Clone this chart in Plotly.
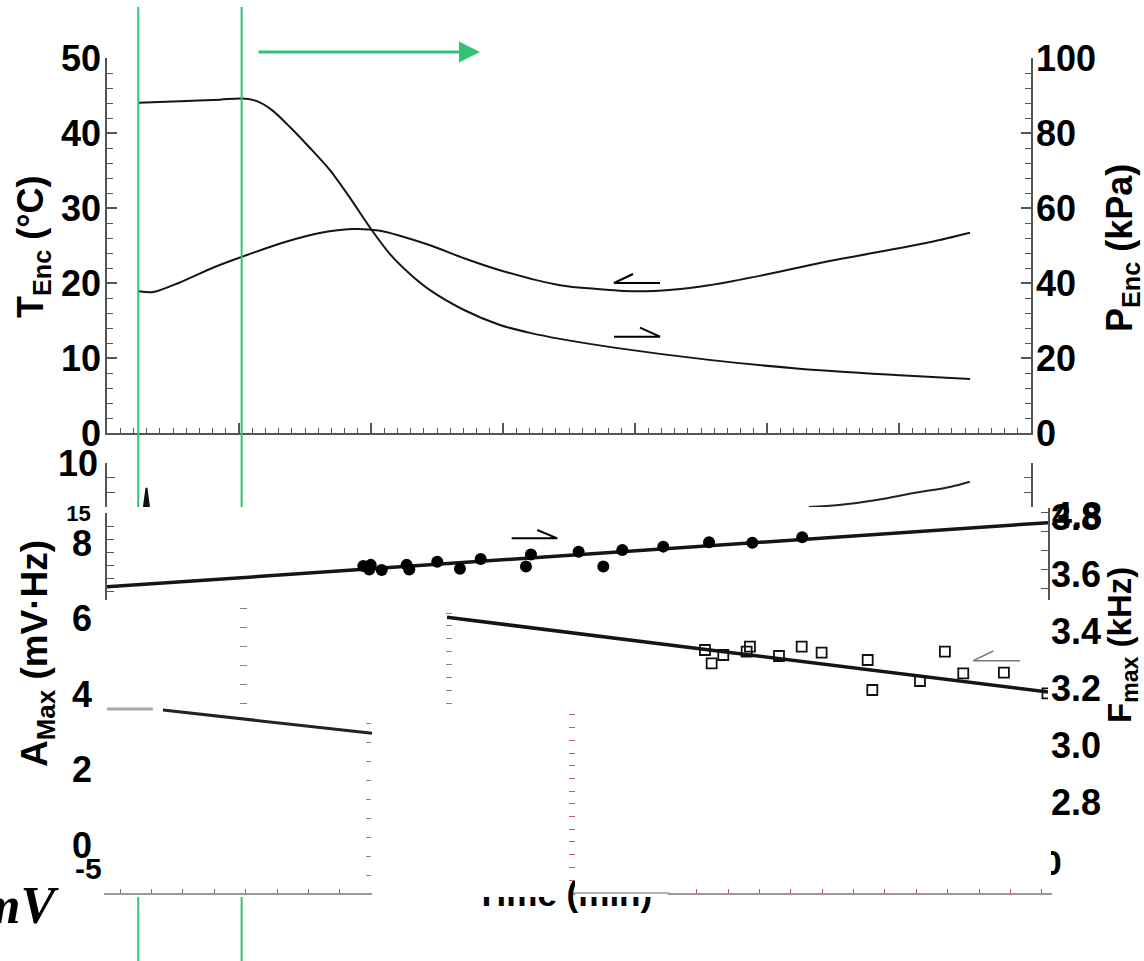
import plotly.graph_objects as go

W, H = 1144, 961
FONT = "Liberation Sans, Arial, sans-serif"
AX = "#555555"
LINE = "#151515"
GREEN = "#33c172"


def px(xp):
    return xp / W


def py(yp):
    return (H - yp) / H


# ---------------- data ----------------
# Top panel: enclosure temperature (left axis, °C) and pressure (right axis, kPa) vs time (min)
time_T = [2.39, 3.52, 5.42, 8.11, 10.23, 13.56, 16.21, 18.56, 20.58, 24.36, 27.05,
          29.77, 34.32, 37.12, 39.96, 42.80, 45.61, 49.85, 54.09, 58.33, 62.50, 65.38]
T_enc = [18.9, 18.8, 20.0, 22.1, 23.5, 25.5, 26.7, 27.2, 27.0, 25.1, 23.3,
         21.7, 19.7, 19.2, 18.9, 19.1, 19.7, 21.1, 22.7, 24.1, 25.5, 26.7]
time_P = [2.39, 5.53, 8.56, 10.23, 11.36, 12.50, 13.86, 15.38, 16.89, 18.41, 20.0,
          21.44, 22.95, 24.47, 27.05, 29.77, 32.05, 34.32, 38.56, 45.61, 52.65, 59.70, 65.38]
P_enc = [88.1, 88.5, 88.9, 89.2, 88.5, 86.1, 81.6, 76.0, 70.1, 62.7, 54.4,
         47.7, 42.4, 38.1, 32.8, 28.8, 26.7, 25.1, 22.7, 19.5, 17.1, 15.5, 14.4]
event_times = [2.37, 10.2]

# Middle strip (partly hidden panel)
time_strip = [53.18, 55.45, 58.30, 61.12, 63.94, 65.36]
val_strip = [7.0, 7.14, 7.48, 7.95, 8.38, 8.72]
time_spike = [2.80, 2.99, 3.18]
val_spike = [7.0, 8.3, 7.0]

# Lower panel: F_max (filled circles, right axis) and A_max (open squares, left axis)
time_F = [19.42, 19.98, 19.87, 20.81, 22.70, 22.90, 25.02, 26.74, 28.31, 31.74,
          32.12, 35.73, 37.60, 39.04, 42.14, 45.61, 48.89, 52.67]
F_max = [3.628, 3.632, 3.616, 3.614, 3.632, 3.616, 3.643, 3.618, 3.653, 3.626,
         3.668, 3.678, 3.626, 3.684, 3.696, 3.711, 3.710, 3.729]
time_F_fit = [0.0, 71.29]
F_fit = [3.555, 3.780]

time_A = [45.30, 45.81, 46.69, 48.71, 48.46, 50.91, 52.63, 54.14, 57.63, 57.98,
          61.59, 63.48, 64.87, 67.95, 71.25]
A_max = [5.166, 4.813, 5.033, 5.253, 5.121, 5.007, 5.253, 5.094, 4.901, 4.106,
         4.344, 5.121, 4.548, 4.564, 4.019]
time_A_fit = [25.76, 71.29]
A_fit = [6.032, 4.053]
time_A_frag = [4.24, 20.08]
A_frag = [3.576, 2.959]
time_A_flat = [-0.23, 3.48]
A_flat = [3.60, 3.60]

T_ticks = [0, 10, 20, 30, 40, 50]
P_ticks = [0, 20, 40, 60, 80, 100]
A_ticks = [0, 2, 4, 6, 8]
F_ticks = [2.8, 3.0, 3.2, 3.4, 3.6, 3.8]

TF = dict(family=FONT, size=36, color="black", weight="bold")

fig = go.Figure()


def dummy(xa, ya):
    fig.add_trace(go.Scatter(x=[None], y=[None], xaxis=xa, yaxis=ya, showlegend=False, hoverinfo="skip"))


fig.add_trace(go.Scatter(x=time_T, y=T_enc, mode="lines",
                         line=dict(color=LINE, width=2, shape="spline", smoothing=0.8),
                         xaxis="x", yaxis="y", showlegend=False))
fig.add_trace(go.Scatter(x=time_P, y=P_enc, mode="lines",
                         line=dict(color=LINE, width=2, shape="spline", smoothing=0.8),
                         xaxis="x", yaxis="y2", showlegend=False))
fig.add_trace(go.Scatter(x=time_strip, y=val_strip, mode="lines", line=dict(color="#222", width=2, shape="spline"),
                         xaxis="x2", yaxis="y3", showlegend=False))
fig.add_trace(go.Scatter(x=time_spike, y=val_spike, mode="lines", fill="toself", fillcolor="#111",
                         line=dict(color="#111", width=2), xaxis="x2", yaxis="y3", showlegend=False))
dummy("x2", "y4")
fig.add_trace(go.Scatter(x=time_F_fit, y=F_fit, mode="lines", line=dict(color=LINE, width=3.5),
                         xaxis="x3", yaxis="y6", showlegend=False))
fig.add_trace(go.Scatter(x=time_F, y=F_max, mode="markers", marker=dict(color="black", size=12),
                         xaxis="x3", yaxis="y6", showlegend=False))
fig.add_trace(go.Scatter(x=time_A_fit, y=A_fit, mode="lines", line=dict(color=LINE, width=3.5),
                         xaxis="x3", yaxis="y5", showlegend=False))
fig.add_trace(go.Scatter(x=time_A_frag, y=A_frag, mode="lines", line=dict(color="#222", width=3),
                         xaxis="x3", yaxis="y5", showlegend=False))
fig.add_trace(go.Scatter(x=time_A_flat, y=A_flat, mode="lines", line=dict(color="#aaa", width=3),
                         xaxis="x3", yaxis="y5", showlegend=False))
fig.add_trace(go.Scatter(x=time_A, y=A_max, mode="markers",
                         marker=dict(symbol="square-open", color="#111", size=10, line=dict(width=1.8)),
                         xaxis="x3", yaxis="y5", showlegend=False))
dummy("x3", "y7")
dummy("x3", "y8")
dummy("x7", "y9")
dummy("x8", "y10")
dummy("x9", "y11")
dummy("x10", "y12")
dummy("x4", "y14")
dummy("x5", "y14")
# partly hidden texts (drawn in a pixel-space overlay so that white masks can cover them)
fig.add_trace(go.Scatter(x=[564, 1052], y=[897, 866], mode="text", text=["Time (min)", "0"],
                         textfont=dict(family=FONT, size=35, color="black", weight="bold"),
                         textposition="middle center", cliponaxis=False,
                         xaxis="x6", yaxis="y13", showlegend=False, hoverinfo="skip"))

minor_y = dict(ticks="inside", ticklen=6, tickcolor=AX, tickwidth=1.2)
base = dict(showgrid=False, zeroline=False, automargin=False)


def ax(**kw):
    d = dict(base)
    d.update(kw)
    return d


def col_x(xp):
    return ax(domain=[px(xp), px(xp + 1)], range=[0, 1], visible=False)


fig.update_layout(
    template="none",
    width=W, height=H, margin=dict(l=0, r=0, t=0, b=0, pad=0, autoexpand=False),
    paper_bgcolor="white", plot_bgcolor="rgba(0,0,0,0)", showlegend=False,
    font=dict(family=FONT, color="black"),
    xaxis=ax(domain=[px(107), px(1031)], range=[0, 70], anchor="y", showline=True, linecolor=AX,
             linewidth=1.5, ticks="inside", ticklen=10, tickcolor=AX, tickwidth=1.5, dtick=10,
             minor=dict(dtick=1, ticks="inside", ticklen=5, tickcolor=AX, tickwidth=1.2),
             showticklabels=False),
    yaxis=ax(domain=[py(433), py(58)], range=[0, 50], anchor="x", showline=True, linecolor=AX,
             linewidth=1.5, ticks="inside", ticklen=10, tickcolor=AX, tickwidth=1.5,
             tickvals=T_ticks, tickfont=TF, minor=dict(dtick=2, **minor_y), ticklabelstandoff=-3),
    yaxis2=ax(overlaying="y", side="right", anchor="x", range=[0, 100], showline=True, linecolor=AX,
              linewidth=1.5, ticks="inside", ticklen=10, tickcolor=AX, tickwidth=1.5,
              tickvals=P_ticks, tickfont=TF, minor=dict(dtick=4, **minor_y), ticklabelstandoff=-4),
    xaxis2=ax(domain=[px(107), px(1031)], range=[0, 70], anchor="y3", visible=False),
    yaxis3=ax(domain=[py(507), py(463)], range=[7, 10], anchor="x2", showline=True, linecolor=AX,
              linewidth=1.5, ticks="inside", ticklen=8, tickcolor=AX, tickvals=[7, 8, 9, 10],
              ticktext=["", "", "", "10"], tickfont=TF, ticklabelstandoff=0),
    yaxis4=ax(overlaying="y3", side="right", anchor="x2", range=[7, 10], showline=True, linecolor=AX,
              linewidth=1.5, ticks="inside", ticklen=7, tickcolor=AX, dtick=1, showticklabels=False),
    xaxis3=ax(domain=[px(107), px(1048)], range=[0, 71.29], anchor="y5", visible=False),
    yaxis5=ax(domain=[py(845), py(512.8)], range=[0, 8.8], anchor="x3", showline=False, ticks="",
              tickvals=A_ticks, tickfont=TF, ticklabelstandoff=14),
    yaxis6=ax(overlaying="y5", side="right", anchor="x3", range=[2.6491, 3.8147], showline=False,
              ticks="", tickvals=F_ticks, tickformat=".1f", tickfont=TF, ticklabelstandoff=2),
    yaxis7=ax(domain=[py(600), py(513)], range=[8.31, 15], anchor="x3", side="left", showline=True,
              linecolor=AX, linewidth=1.5, ticks="inside", ticklen=7, tickcolor=AX,
              tickvals=[9, 10, 11, 12, 13, 14, 15], ticktext=["", "", "", "", "", "", "15"],
              tickfont=dict(family=FONT, size=22, color="black", weight="bold"), ticklabelstandoff=10),
    yaxis8=ax(domain=[py(600), py(508)], range=[0, 4.817], anchor="x3", side="right", showline=True,
              linecolor=AX, linewidth=1.5, ticks="inside", ticklen=7, tickcolor=AX, tick0=0.607,
              dtick=1, showticklabels=False),
    xaxis7=col_x(248), xaxis8=col_x(372), xaxis9=col_x(446), xaxis10=col_x(569),
    yaxis9=ax(domain=[py(706), py(600)], range=[0, 5.579], anchor="x7", side="left",
              showline=False, ticks="outside", ticklen=7, tickcolor="#888", tick0=0.158, dtick=1,
              showticklabels=False),
    yaxis10=ax(domain=[py(893), py(718)], range=[0, 9.21], anchor="x8", side="left",
               showline=False, ticks="outside", ticklen=5, tickcolor="#888", tick0=0.947, dtick=1,
               showticklabels=False),
    yaxis11=ax(domain=[py(706), py(608)], range=[0, 7.63], anchor="x9", side="left",
               showline=False, ticks="inside", ticklen=6, tickcolor="#888", tick0=0.233, dtick=1,
               showticklabels=False),
    yaxis12=ax(domain=[py(893), py(710)], range=[0, 14.41], anchor="x10", side="left",
               showline=False, ticks="inside", ticklen=6, tickcolor="#b0606a", tick0=1.02, dtick=1,
               showticklabels=False),
    yaxis14=ax(domain=[py(893), py(880)], range=[0, 1], anchor="x4", visible=False),
    xaxis4=ax(domain=[px(104), px(372)], range=[0, 8.535], anchor="y14", side="bottom",
              showline=True, linecolor="#999", linewidth=1.5, ticks="inside", ticklen=4, tickcolor="#a06070",
              tick0=0.51, dtick=1, showticklabels=False),
    xaxis5=ax(domain=[px(570), px(1052)], range=[0, 15.37], anchor="y14", side="bottom",
              showline=True, linecolor="#999", linewidth=1.5, ticks="inside", ticklen=4, tickcolor="#b05060",
              tick0=1.043, dtick=1, showticklabels=False),
    xaxis6=ax(domain=[0, 1], range=[0, W], anchor="y13", visible=False),
    yaxis13=ax(domain=[0, 1], range=[H, 0], anchor="x6", visible=False),
)

TITLE = dict(family=FONT, size=36, color="black", weight="bold")
annotations = []
for text, x, y, s in [("T<sub>Enc</sub> (°C)", 33, 247, 36), ("P<sub>Enc</sub> (kPa)", 1122, 248, 36),
                      ("A<sub>Max</sub> (mV·Hz)", 37, 654, 37), ("F<sub>max</sub> (kHz)", 1122, 645, 33)]:
    annotations.append(dict(xref="paper", yref="paper", showarrow=False, xanchor="center",
                            yanchor="middle", font=dict(TITLE, size=s), text=text, x=px(x), y=py(y),
                            textangle=-90))
annotations.append(dict(xref="paper", yref="paper", showarrow=False, text="4.8", x=px(1050), y=py(515),
                        xanchor="left", yanchor="middle", font=TF))
annotations.append(dict(xref="paper", yref="paper", showarrow=False, text="-5", x=px(104), y=py(868),
                        xanchor="right", yanchor="middle",
                        font=dict(family=FONT, size=30, color="black", weight="bold")))
annotations.append(dict(xref="paper", yref="paper", showarrow=False, text="<i>mV</i>", x=px(-22), y=py(905),
                        xanchor="left", yanchor="middle",
                        font=dict(family="Liberation Serif, DejaVu Serif, serif", size=52, color="black",
                                  weight="bold")))
annotations.append(dict(xref="paper", yref="paper", x=px(480), y=py(52), ax=-223, ay=0, text="",
                        showarrow=True, arrowhead=2, arrowsize=1.4, arrowwidth=3, arrowcolor=GREEN))
fig.update_layout(annotations=annotations)


def half_arrow(pts, color="black", width=2):
    d = "M " + " L ".join(f"{px(a):.5f},{py(b):.5f}" for a, b in pts)
    return dict(type="path", xref="paper", yref="paper", path=d, line=dict(color=color, width=width))


shapes = [
    half_arrow([(660, 283), (614, 283), (633, 274)]),
    half_arrow([(614, 336.7), (660, 336.7), (640, 327.7)]),
    half_arrow([(511.7, 538.3), (557.3, 538.3), (537.3, 530)]),
    half_arrow([(1020, 660.7), (973.3, 660.7), (993.3, 651)], color="#777", width=1.5),
]
for t in event_times:
    shapes.append(dict(type="line", xref="x", yref="paper", x0=t, x1=t, y0=py(7), y1=py(507),
                       line=dict(color=GREEN, width=2)))
    shapes.append(dict(type="line", xref="x", yref="paper", x0=t, x1=t, y0=py(897), y1=py(961),
                       line=dict(color=GREEN, width=2)))
# white masks that hide parts of texts, as in the picture
for x0, x1, y0, y1 in [(462, 567, 860, 897), (575, 668, 860, 897), (1034, 1051, 846, 886)]:
    shapes.append(dict(type="rect", xref="paper", yref="paper", x0=px(x0), x1=px(x1), y0=py(y1), y1=py(y0),
                       fillcolor="white", line=dict(width=0), layer="above"))
# restore the piece of the lower time axis covered by the mask
shapes.append(dict(type="line", xref="paper", yref="paper", x0=px(574), x1=px(669), y0=py(893), y1=py(893),
                   line=dict(color="#999", width=1.5), layer="above"))
fig.update_layout(shapes=shapes)

fig.write_html("out.html")
